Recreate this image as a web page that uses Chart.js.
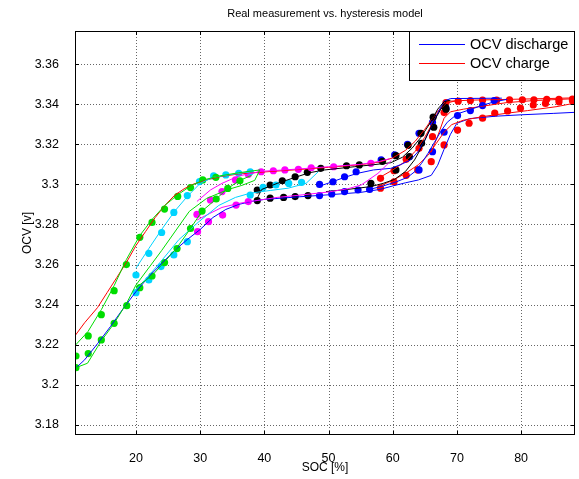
<!DOCTYPE html>
<html><head><meta charset="utf-8">
<script src="https://cdn.jsdelivr.net/npm/chart.js@4/dist/chart.umd.min.js"></script>
<style>html,body{margin:0;padding:0;background:#fff;}canvas{display:block;}</style>
</head><body>
<canvas id="c" width="579" height="479"></canvas>
<script>
// ---------- axis ticks ----------
const xTicks = [20, 30, 40, 50, 60, 70, 80];
const xTickLabels = ['20', '30', '40', '50', '60', '70', '80'];
const yTicks = [3.18, 3.2, 3.22, 3.24, 3.26, 3.28, 3.3, 3.32, 3.34, 3.36];
const yTickLabels = ['3.18', '3.2', '3.22', '3.24', '3.26', '3.28', '3.3', '3.32', '3.34', '3.36'];
const legendNames = ['OCV discharge', 'OCV charge'];

// ---------- model lines (SOC %, OCV V) ----------
const blueBoundary = [[10.5,3.208],[12,3.2125],[14,3.2205],[16,3.229],[18,3.238],[20,3.2465],[22,3.254],[24,3.2605],[26,3.267],[28,3.2725],[30,3.2775],[32,3.2835],[34,3.2875],[36,3.29],[38,3.2915],[40,3.2925],[45,3.2937],[50,3.2948],[55,3.296],[58,3.2975],[60,3.2992],[62,3.3008],[64,3.3022],[66,3.3045],[67,3.3095],[68,3.3175],[69,3.325],[70,3.3305],[72,3.3328],[76,3.334],[80,3.3347],[85,3.3354],[88.8,3.336]];
const redBoundary = [[10.5,3.2245],[12,3.231],[14,3.2385],[15.5,3.246],[17,3.2535],[18.5,3.261],[20,3.2695],[21.5,3.2765],[23,3.2835],[24.5,3.2895],[26,3.2945],[27.5,3.2978],[29,3.3002],[31,3.3022],[33,3.3038],[36,3.3052],[40,3.3062],[45,3.3073],[50,3.3085],[55,3.3098],[58,3.3112],[60,3.3132],[62,3.317],[63.5,3.3215],[65,3.3275],[66,3.332],[67,3.3365],[68,3.3398],[69,3.3415],[72,3.342],[78,3.3424],[84,3.3428],[88.8,3.3432]];
const greenChargeLine = [[10.5,3.2196],[12.5,3.2265],[14.6,3.2375],[16.6,3.2495],[18.5,3.2625],[20.6,3.2745],[22.5,3.2825],[24.5,3.2895],[26.5,3.2948],[28.5,3.2992],[30.5,3.3022],[33,3.3042],[36,3.3058],[39.3,3.3072]];
const greenDischLine = [[39.3,3.3072],[38.5,3.302],[36.5,3.2995],[34.4,3.2975],[31,3.293],[28.3,3.2865],[24,3.267],[20,3.2498],[18.5,3.2405],[16.6,3.2307],[14.5,3.2215],[12.45,3.2108],[10.5,3.2084]];
const greenLine2 = [[20,3.2485],[22.5,3.2545],[24.5,3.2615],[26.4,3.2685],[28.5,3.278],[30.3,3.2867],[32.5,3.2927],[34.3,3.298],[36.2,3.302],[38,3.3045]];
const cyanChargeLine = [[20,3.2582],[22,3.268],[24,3.2775],[26,3.2865],[28,3.294],[30,3.3005],[32,3.3035],[35,3.305],[37.8,3.3063]];
const cyanLine2 = [[20,3.2475],[22,3.2545],[24,3.262],[26.7,3.2725],[29.8,3.2814],[32.9,3.2895],[35.5,3.2935],[37.8,3.2956],[41,3.297],[43.7,3.2981],[46.5,3.3005],[48.4,3.3063]];
const magentaUpperLine = [[29.5,3.2915],[31.6,3.2972],[33.4,3.3005],[36,3.3042],[39.5,3.3065],[45,3.3076],[50,3.3088],[55,3.31],[58,3.3115],[59.5,3.3128]];
const magentaLowerLine = [[29.5,3.2822],[31.5,3.2855],[33.4,3.2885],[36,3.2905],[38.5,3.2918],[42,3.2935],[46,3.2948],[50,3.2962],[53,3.2978],[55.1,3.2997],[57.7,3.3055],[59,3.3095],[59.8,3.312]];
const blackLine1 = [[38.8,3.2925],[39.6,3.2975],[42,3.3005],[44.8,3.3035],[47,3.3058],[49.4,3.3072],[54,3.3088],[57,3.3098],[59.7,3.3108],[61.5,3.3135],[63,3.318],[64.4,3.3235],[66,3.3315],[67,3.3375],[68,3.3412],[69,3.342]];
const blackLine2 = [[49.6,3.2964],[53,3.2975],[56.6,3.2989],[58.5,3.3005],[60.3,3.3025],[62,3.3065],[63.4,3.3122],[64.5,3.3185],[65.5,3.3255],[66.5,3.332],[67.5,3.3375],[68.3,3.341]];
const blueLineMid = [[48.4,3.2989],[50.5,3.3012],[52.5,3.3035],[54.5,3.3055],[57,3.3072],[59.7,3.308],[61.2,3.3098],[62.8,3.3122],[64,3.3165],[65,3.322],[66,3.3285],[67,3.3355],[68,3.3415],[69,3.3428],[77,3.343]];
const blueLineLow = [[56.4,3.2975],[58.5,3.2992],[60.5,3.3012],[62.3,3.3035],[63.5,3.3065],[64.5,3.3105],[65.5,3.3155],[66.5,3.321],[67.5,3.3265],[68.5,3.331],[70.1,3.3352],[72,3.3372],[74,3.3395],[76,3.3413],[77.8,3.3424]];
const redLineUpper = [[58,3.3035],[60,3.3072],[62,3.3115],[63.5,3.3165],[65,3.3235],[66.2,3.3305],[67.2,3.3365],[68.3,3.3405],[70,3.3418]];
const redLineLower = [[58,3.2992],[60,3.302],[62,3.3055],[64,3.3098],[65.5,3.3145],[66.8,3.3205],[68,3.326],[69.2,3.3298],[71,3.332],[74,3.3338],[77.8,3.3355],[81,3.3368],[85.6,3.3388],[88.8,3.3408]];
const redLineMid = [[66,3.316],[67,3.324],[68,3.333],[69,3.3362],[71,3.3375],[74,3.339],[77.8,3.3408],[82,3.3418],[88.8,3.3428]];

// ---------- measured points ----------
const greenDotsCharge = [[10.65,3.2144],[12.56,3.2244],[14.6,3.235],[16.6,3.247],[18.5,3.26],[20.6,3.2736],[22.5,3.281],[24.45,3.2877],[26.5,3.294],[28.5,3.2984],[30.4,3.3022],[32.45,3.3035]];
const greenDotsDisch = [[36.2,3.3018],[34.3,3.298],[32.5,3.2927],[30.3,3.2867],[28.5,3.278],[26.4,3.268],[24.45,3.261],[22.5,3.2543],[20.6,3.2485],[18.56,3.2395],[16.6,3.2307],[14.6,3.2224],[12.56,3.2156],[10.65,3.2086]];
const cyanDotsUpper = [[20,3.2548],[22,3.2656],[24,3.276],[25.9,3.286],[28,3.2944],[29.9,3.3014],[32.1,3.3042],[34,3.3047],[36,3.3055],[37.8,3.3063]];
const cyanDotsLower = [[20,3.246],[22,3.2523],[23.9,3.259],[25.9,3.2648],[28,3.2714],[37.8,3.2947],[39.8,3.2985],[41.8,3.2997],[43.8,3.3005],[45.8,3.301]];
const magentaDotsUpper = [[29.5,3.285],[31.6,3.2922],[33.4,3.2964],[35.5,3.3022],[37.5,3.305],[39.5,3.3063],[41.4,3.3068],[43.2,3.3072],[45.3,3.3075],[47.3,3.3083],[50.8,3.3088],[56.6,3.3105]];
const magentaDotsLower = [[29.6,3.2764],[31.3,3.2814],[33.5,3.2847],[35.6,3.2897],[37.5,3.2914]];
const blackDotsUpper = [[38.9,3.2972],[40.9,3.2997],[42.8,3.3018],[44.8,3.3038],[46.7,3.306],[48.8,3.308],[52.8,3.3093],[54.8,3.3097],[58.4,3.3115],[60.5,3.3143],[62.4,3.3195],[64.4,3.3255],[66.3,3.3335],[68.2,3.3385]];
const blackDotsLower = [[38.9,3.2919],[40.9,3.2931],[43,3.2935],[44.8,3.2939],[46.8,3.2944],[56.6,3.3005],[60.5,3.3072],[62.6,3.3138],[64.5,3.3205],[66.4,3.3285],[68.3,3.3375]];
const blueDotsLower = [[48.6,3.2944],[50.5,3.2952],[52.5,3.2964],[54.6,3.2972],[56.4,3.2975],[64.1,3.3072],[66.2,3.3163],[68,3.326],[70.1,3.3343],[72.1,3.3368],[74,3.3393],[75.8,3.3418]];
const blueDotsUpper = [[48.6,3.3],[50.7,3.3013],[52.5,3.3038],[54.3,3.3063],[58.2,3.3122],[60.3,3.3147],[62.3,3.32],[64.1,3.3255],[66.2,3.331],[68.3,3.338]];
const redDotsTop = [[68.3,3.3408],[70.2,3.3415],[72.1,3.3418],[74,3.342],[76.2,3.342],[78.2,3.3421],[80.2,3.3422],[82,3.3422],[84,3.3424],[85.9,3.3424],[88,3.3425]];
const redDotsUpperRise = [[58.1,3.303],[60.2,3.3068],[62.1,3.3125],[64.1,3.318],[66.2,3.3238],[68,3.3358]];
const redDotsLowerRise = [[58.1,3.2981],[60.2,3.3012],[62.1,3.3045],[63.9,3.3072],[66,3.3113],[68,3.3197],[70.1,3.3271],[71.9,3.3305],[74,3.333],[75.9,3.3355],[77.9,3.3366],[79.9,3.338],[81.9,3.3396],[83.8,3.3404],[85.9,3.3412],[88,3.3417]];

const C = {blue:'#0000ff', red:'#ff0000', green:'#00dd00', cyan:'#00d4ff', magenta:'#ff00ff', black:'#000000'};
const toXY = a => a.map(p => ({x:p[0], y:p[1]}));
const line = (d, c) => ({data:toXY(d), showLine:true, borderColor:c, borderWidth:1, pointRadius:0, backgroundColor:c});
const dots = (d, c) => ({data:toXY(d), showLine:false, pointRadius:3.6, pointBorderWidth:0, backgroundColor:c, borderColor:c});

const datasets = [
  line(greenChargeLine, C.green), line(greenDischLine, C.green), line(greenLine2, C.green),
  line(cyanChargeLine, C.cyan), line(cyanLine2, C.cyan),
  line(magentaUpperLine, C.magenta), line(magentaLowerLine, C.magenta),
  line(blackLine1, C.black), line(blackLine2, C.black),
  line(blueLineMid, C.blue), line(blueLineLow, C.blue),
  line(redLineUpper, C.red), line(redLineLower, C.red), line(redLineMid, C.red),
  line(blueBoundary, C.blue), line(redBoundary, C.red),
  dots(greenDotsCharge, C.green), dots(greenDotsDisch, C.green),
  dots(cyanDotsUpper, C.cyan), dots(cyanDotsLower, C.cyan),
  dots(magentaDotsUpper, C.magenta), dots(magentaDotsLower, C.magenta),
  dots(blackDotsUpper, C.black), dots(blackDotsLower, C.black),
  dots(blueDotsLower, C.blue), dots(blueDotsUpper, C.blue),
  dots(redDotsTop, C.red), dots(redDotsUpperRise, C.red), dots(redDotsLowerRise, C.red)
];

const FONT = '"Liberation Sans", Arial, sans-serif';

const decor = {
  id: 'decor',
  beforeDatasetsDraw(chart) {
    const {ctx, chartArea: a, scales: {x, y}} = chart;
    ctx.save();
    ctx.strokeStyle = 'rgba(0,0,0,0.6)';
    ctx.lineWidth = 1;
    ctx.setLineDash([1, 2]);
    xTicks.forEach(v => { const px = Math.round(x.getPixelForValue(v)) + 0.5; ctx.beginPath(); ctx.moveTo(px, a.top); ctx.lineTo(px, a.bottom); ctx.stroke(); });
    yTicks.forEach(v => { const py = Math.round(y.getPixelForValue(v)) + 0.5; ctx.beginPath(); ctx.moveTo(a.left, py); ctx.lineTo(a.right, py); ctx.stroke(); });
    ctx.restore();
  },
  afterDatasetsDraw(chart) {
    const {ctx, chartArea: a, scales: {x, y}} = chart;
    ctx.save();
    ctx.strokeStyle = '#000';
    ctx.lineWidth = 1;
    ctx.setLineDash([]);
    ctx.strokeRect(a.left + 0.5, a.top + 0.5, a.right - a.left - 1, a.bottom - a.top - 1);
    ctx.beginPath();
    xTicks.forEach(v => { const px = Math.round(x.getPixelForValue(v)) + 0.5; ctx.moveTo(px, a.bottom); ctx.lineTo(px, a.bottom - 4); ctx.moveTo(px, a.top); ctx.lineTo(px, a.top + 4); });
    yTicks.forEach(v => { const py = Math.round(y.getPixelForValue(v)) + 0.5; ctx.moveTo(a.left, py); ctx.lineTo(a.left + 4, py); ctx.moveTo(a.right, py); ctx.lineTo(a.right - 4, py); });
    ctx.stroke();
    // legend
    const lx = 409.5, ly = 31.5, lw = a.right - 0.5 - lx, lh = 49;
    ctx.fillStyle = '#fff';
    ctx.fillRect(lx, ly, lw, lh);
    ctx.strokeStyle = '#000';
    ctx.strokeRect(lx, ly, lw, lh);
    const cols = [C.blue, C.red];
    legendNames.forEach((n, i) => {
      const yy = 44.5 + i * 19;
      ctx.strokeStyle = cols[i];
      ctx.lineWidth = 1;
      ctx.beginPath(); ctx.moveTo(419, yy); ctx.lineTo(465, yy); ctx.stroke();
      ctx.fillStyle = '#000';
      ctx.font = '14.5px ' + FONT;
      ctx.textBaseline = 'middle';
      ctx.textAlign = 'left';
      ctx.fillText(n, 470, yy + 0.5);
    });
    // titles
    ctx.fillStyle = '#000';
    ctx.textAlign = 'center';
    ctx.textBaseline = 'alphabetic';
    ctx.font = '11px ' + FONT;
    ctx.fillText('Real measurement vs. hysteresis model', (a.left + a.right) / 2, 17);
    ctx.font = '12px ' + FONT;
    ctx.fillText('SOC [%]', (a.left + a.right) / 2, 471);
    ctx.translate(31, (a.top + a.bottom) / 2);
    ctx.rotate(-Math.PI / 2);
    ctx.fillText('OCV [v]', 0, 0);
    ctx.restore();
  }
};

new Chart(document.getElementById('c'), {
  type: 'scatter',
  data: { datasets },
  options: {
    responsive: false,
    animation: false,
    devicePixelRatio: 1,
    layout: { padding: { left: 0, right: 1, top: 31, bottom: 0 } },
    plugins: { legend: { display: false }, title: { display: false }, tooltip: { enabled: false } },
    scales: {
      x: {
        type: 'linear', min: 10.5, max: 88.4,
        afterBuildTicks: s => { s.ticks = xTicks.map(v => ({ value: v })); },
        afterFit: s => { s.height = 44; },
        grid: { display: false },
        border: { display: false },
        ticks: { padding: 8, color: '#000', font: { family: FONT, size: 12.5 }, maxRotation: 0, callback: (v) => xTickLabels[xTicks.indexOf(v)] }
      },
      y: {
        type: 'linear', min: 3.175, max: 3.3765,
        afterBuildTicks: s => { s.ticks = yTicks.map(v => ({ value: v })); },
        afterFit: s => { s.width = 75; },
        grid: { display: false },
        border: { display: false },
        ticks: { padding: 8, color: '#000', font: { family: FONT, size: 12.5 }, callback: (v) => { const i = yTicks.findIndex(t => Math.abs(t - v) < 1e-6); return i >= 0 ? yTickLabels[i] : ''; } }
      }
    }
  },
  plugins: [decor]
});
</script>
</body></html>
